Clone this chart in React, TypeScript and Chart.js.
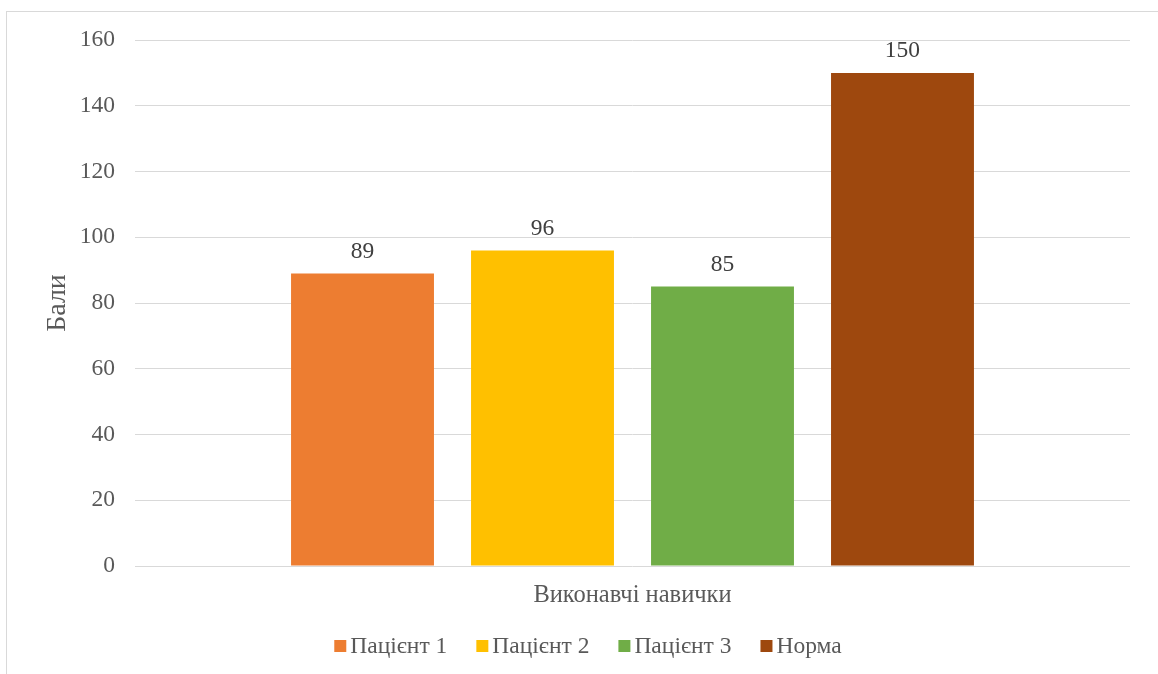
import React, { useEffect, useRef } from "react";
import { Chart, registerables } from "chart.js";

Chart.register(...registerables);

const categories = ["Виконавчі навички"];
const seriesNames = ["Пацієнт 1", "Пацієнт 2", "Пацієнт 3", "Норма"];
const seriesValues = [[89], [96], [85], [150]];
const seriesColors = ["#ED7D31", "#FFC000", "#70AD47", "#9E480E"];
const yTicks = { min: 0, max: 160, step: 20 };
const yTitle = "Бали";

const FONT = "Liberation Serif";
const FS = 23.5;

const valueLabels = {
  id: "valueLabels",
  afterDatasetsDraw(chart: any) {
    const ctx = chart.ctx;
    ctx.save();
    ctx.font = `${FS}px ${FONT}`;
    ctx.fillStyle = "#404040";
    ctx.textAlign = "center";
    ctx.textBaseline = "alphabetic";
    chart.data.datasets.forEach((ds: any, i: number) => {
      const meta = chart.getDatasetMeta(i);
      meta.data.forEach((bar: any, j: number) => {
        ctx.fillText(String(ds.data[j]), bar.x, bar.y - 15.5);
      });
    });
    ctx.restore();
  },
};

const customLegend = {
  id: "customLegend",
  afterDraw(chart: any) {
    const ctx = chart.ctx;
    ctx.save();
    ctx.font = `${FS}px ${FONT}`;
    const box = 12;
    const gapText = 4;
    const gapItem = 29;
    const items = chart.data.datasets.map((ds: any) => ({
      label: ds.label,
      color: ds.backgroundColor,
      w: ctx.measureText(ds.label).width,
    }));
    let total = 0;
    items.forEach((it: any, i: number) => {
      total += box + gapText + it.w + (i < items.length - 1 ? gapItem : 0);
    });
    let x = 588 - total / 2;
    const cy = 646;
    items.forEach((it: any) => {
      ctx.fillStyle = it.color;
      ctx.fillRect(x, cy - 6, box, box);
      x += box + gapText;
      ctx.fillStyle = "#595959";
      ctx.textAlign = "left";
      ctx.textBaseline = "middle";
      ctx.fillText(it.label, x, cy + 1);
      x += it.w + gapItem;
    });
    ctx.restore();
  },
};

export default function App() {
  const ref = useRef<HTMLCanvasElement>(null);
  useEffect(() => {
    if (!ref.current) return;
    const chart = new Chart(ref.current, {
      type: "bar",
      data: {
        labels: categories,
        datasets: seriesNames.map((name, i) => ({
          label: name,
          data: seriesValues[i],
          backgroundColor: seriesColors[i],
          borderWidth: 0,
          barPercentage: 0.794,
          categoryPercentage: 0.7236,
        })),
      },
      options: {
        animation: false,
        responsive: false,
        maintainAspectRatio: false,
        layout: { padding: { left: 41, right: 28, top: 40, bottom: 0 } },
        plugins: {
          legend: { display: false },
          tooltip: { enabled: false },
          title: { display: false },
        },
        scales: {
          x: {
            grid: { display: false, drawTicks: false },
            border: { display: false },
            ticks: {
              color: "#595959",
              font: { family: FONT, size: 24.5 },
              padding: 15,
            },
            afterFit(scale: any) {
              scale.height = 108;
            },
          },
          y: {
            min: yTicks.min,
            max: yTicks.max,
            ticks: {
              stepSize: yTicks.step,
              color: "#595959",
              font: { family: FONT, size: FS },
              padding: 20,
            },
            grid: { color: "#d9d9d9", lineWidth: 1, drawTicks: false },
            border: { display: false },
            title: {
              display: true,
              text: yTitle,
              color: "#595959",
              font: { family: FONT, size: 28 },
              padding: 0,
            },
            afterFit(scale: any) {
              scale.width = 94;
            },
          },
        },
      },
      plugins: [valueLabels, customLegend],
    });
    return () => chart.destroy();
  }, []);
  return (
    <div style={{ position: "fixed", left: 0, top: 0, width: 1158, height: 674, overflow: "hidden", background: "#fff" }}>
      <div
        style={{
          position: "absolute",
          left: 6,
          top: 11,
          width: 1200,
          height: 700,
          border: "1px solid #d9d9d9",
          boxSizing: "border-box",
        }}
      />
      <canvas ref={ref} width={1158} height={674} style={{ position: "absolute", left: 0, top: 0 }} />
    </div>
  );
}
